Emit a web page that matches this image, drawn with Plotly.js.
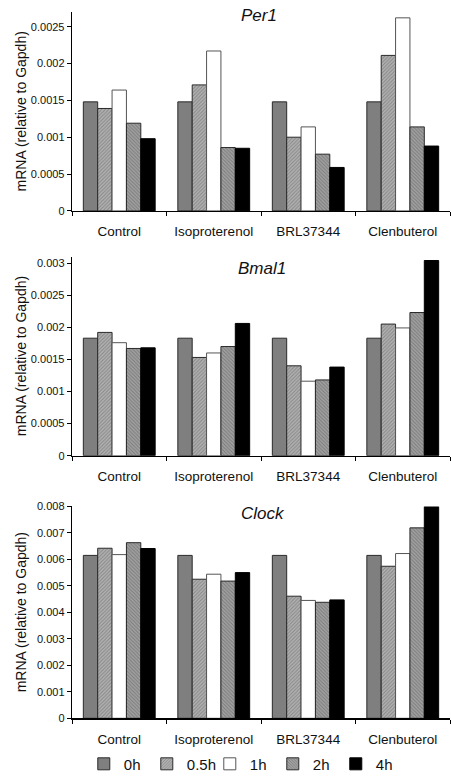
<!DOCTYPE html>
<html>
<head>
<meta charset="utf-8">
<script src="https://cdn.plot.ly/plotly-3.0.1.min.js"></script>
<style>html,body{margin:0;padding:0;background:#fff;}#chart{width:451px;height:781px;}</style>
</head>
<body>
<div id="chart"></div>
<script>
const categories = ["Control", "Isoproterenol", "BRL37344", "Clenbuterol"];
const seriesNames = ["0h", "0.5h", "1h", "2h", "4h"];
const genes = ["Per1", "Bmal1", "Clock"];
const yTitle = "mRNA (relative to Gapdh)";

// Per1
const per1_0h  = [0.00148, 0.00148, 0.00148, 0.00148];
const per1_05h = [0.00139, 0.00171, 0.00100, 0.00211];
const per1_1h  = [0.00164, 0.00217, 0.00114, 0.00262];
const per1_2h  = [0.00119, 0.00086, 0.00077, 0.00114];
const per1_4h  = [0.00098, 0.00085, 0.00059, 0.00088];

// Bmal1
const bmal1_0h  = [0.00183, 0.00183, 0.00183, 0.00183];
const bmal1_05h = [0.00192, 0.00153, 0.00140, 0.00205];
const bmal1_1h  = [0.00176, 0.00160, 0.00116, 0.00199];
const bmal1_2h  = [0.00167, 0.00170, 0.00118, 0.00223];
const bmal1_4h  = [0.00168, 0.00206, 0.00138, 0.00304];

// Clock
const clock_0h  = [0.00615, 0.00615, 0.00615, 0.00615];
const clock_05h = [0.00642, 0.00525, 0.00461, 0.00574];
const clock_1h  = [0.00618, 0.00544, 0.00445, 0.00622];
const clock_2h  = [0.00663, 0.00518, 0.00438, 0.00719];
const clock_4h  = [0.00641, 0.00550, 0.00447, 0.00799];

const panels = [
  [per1_0h, per1_05h, per1_1h, per1_2h, per1_4h],
  [bmal1_0h, bmal1_05h, bmal1_1h, bmal1_2h, bmal1_4h],
  [clock_0h, clock_05h, clock_1h, clock_2h, clock_4h]
];

const W = 451, H = 781;
const FONT = "Liberation Sans, Arial, sans-serif";

const markers = [
  {color: "#7f7f7f", line: {color: "#2a2a2a", width: 1}},
  {color: "#ababab", line: {color: "#2a2a2a", width: 1},
   pattern: {shape: "/", bgcolor: "#b2b2b2", fgcolor: "#868686", size: 2.5, solidity: 0.4}},
  {color: "#ffffff", line: {color: "#555555", width: 1}},
  {color: "#999999", line: {color: "#2a2a2a", width: 1},
   pattern: {shape: "\\", bgcolor: "#a2a2a2", fgcolor: "#7a7a7a", size: 2.5, solidity: 0.4}},
  {color: "#000000", line: {color: "#000000", width: 1}}
];

// panel geometry in pixels (top, bottom)
const pTop = [12, 258, 509];
const pBot = [212, 458, 722];
const yRanges = [[0, 0.0027], [0, 0.0031], [0, 0.008]];
const dticks = [0.0005, 0.0005, 0.001];
const titleY = [16, 270, 516];
const titleX = [259, 262, 263];

const data = [];
panels.forEach((series, p) => {
  series.forEach((vals, s) => {
    data.push({
      type: "bar",
      x: categories,
      y: vals,
      name: seriesNames[s],
      marker: markers[s],
      xaxis: p === 0 ? "x" : "x" + (p + 1),
      yaxis: p === 0 ? "y" : "y" + (p + 1),
      showlegend: p === 0,
      hoverinfo: "skip"
    });
  });
});

const layout = {
  width: W, height: H,
  margin: {l: 0, r: 0, t: 0, b: 0},
  paper_bgcolor: "#ffffff",
  plot_bgcolor: "#ffffff",
  font: {family: FONT, color: "#111"},
  barmode: "group",
  bargap: 0.24,
  bargroupgap: 0,
  showlegend: true,
  legend: {
    orientation: "h", x: 0.535, xanchor: "center", y: 1 - 768 / H, yanchor: "middle",
    font: {size: 15, family: FONT, color: "#111"},
    itemwidth: 30, traceorder: "normal", tracegroupgap: 0,
    entrywidth: 18, entrywidthmode: "pixels"
  },
  annotations: []
};

for (let p = 0; p < 3; p++) {
  const xk = p === 0 ? "xaxis" : "xaxis" + (p + 1);
  const yk = p === 0 ? "yaxis" : "yaxis" + (p + 1);
  const yid = p === 0 ? "y" : "y" + (p + 1);
  const xid = p === 0 ? "x" : "x" + (p + 1);
  layout[xk] = {
    domain: [72 / W, 450 / W],
    anchor: yid,
    type: "category",
    showline: true, linecolor: "#000", linewidth: 1.3,
    ticks: "outside", ticklen: 4, tickcolor: "#000", tickson: "boundaries",
    tickfont: {size: 13.5, family: FONT, color: "#111"},
    ticklabelstandoff: 8,
    showgrid: false, zeroline: false, automargin: false, fixedrange: true
  };
  layout[yk] = {
    domain: [1 - pBot[p] / H, 1 - pTop[p] / H],
    anchor: xid,
    range: yRanges[p],
    dtick: dticks[p], tick0: 0,
    tickformat: ".4~f",
    showline: true, linecolor: "#000", linewidth: 1.3,
    ticks: "outside", ticklen: 4, tickcolor: "#000",
    tickfont: {size: 11, family: FONT, color: "#111"},
    showgrid: false, zeroline: false, automargin: false, fixedrange: true
  };
  layout.annotations.push({
    text: "<i>" + genes[p] + "</i>",
    xref: "paper", yref: "paper",
    x: titleX[p] / W, y: 1 - titleY[p] / H,
    xanchor: "center", yanchor: "middle",
    showarrow: false,
    font: {size: 17, family: FONT, color: "#111"}
  });
  layout.annotations.push({
    text: yTitle,
    xref: "paper", yref: "paper",
    x: 21 / W, y: 1 - ((pTop[p] + pBot[p]) / 2) / H,
    xanchor: "center", yanchor: "middle",
    textangle: -90,
    showarrow: false,
    font: {size: 14, family: FONT, color: "#111"}
  });
}

Plotly.newPlot("chart", data, layout, {displayModeBar: false, staticPlot: true});
</script>
</body>
</html>
